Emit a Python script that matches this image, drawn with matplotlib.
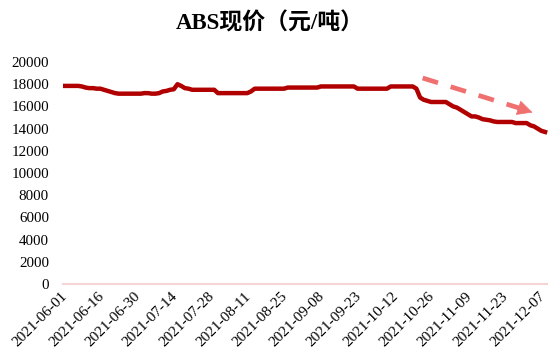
import matplotlib.pyplot as plt
import matplotlib.transforms as mtransforms
import numpy as np

# ABS spot price, one value per trading day from 2021-06-01
prices = [
    17850, 17850, 17850, 17850, 17850, 17800, 17700, 17650, 17650, 17600,
    17600, 17500, 17400, 17300, 17200, 17150, 17150, 17150, 17150, 17150,
    17150, 17150, 17200, 17200, 17150, 17150, 17200, 17350, 17400, 17500,
    17550, 18000, 17850, 17650, 17600, 17500, 17500, 17500, 17500, 17500,
    17500, 17500, 17200, 17200, 17200, 17200, 17200, 17200, 17200, 17200,
    17200, 17350, 17600, 17600, 17600, 17600, 17600, 17600, 17600, 17600,
    17600, 17700, 17700, 17700, 17700, 17700, 17700, 17700, 17700, 17700,
    17800, 17800, 17800, 17800, 17800, 17800, 17800, 17800, 17800, 17800,
    17600, 17600, 17600, 17600, 17600, 17600, 17600, 17600, 17600, 17800,
    17800, 17800, 17800, 17800, 17800, 17800, 17600, 16800, 16600, 16500,
    16400, 16400, 16400, 16400, 16400, 16200, 16000, 15900, 15700, 15500,
    15300, 15100, 15100, 15000, 14850, 14800, 14750, 14650, 14600, 14600,
    14600, 14600, 14600, 14500, 14500, 14500, 14500, 14300, 14200, 14000,
    13800, 13700,
]

# every 10th trading day gets a label
tick_labels = [
    "2021-06-01", "2021-06-16", "2021-06-30", "2021-07-14", "2021-07-28",
    "2021-08-11", "2021-08-25", "2021-09-08", "2021-09-23", "2021-10-12",
    "2021-10-26", "2021-11-09", "2021-11-23", "2021-12-07",
]
y_ticks = list(range(0, 20001, 2000))

serif = ["Liberation Serif", "DejaVu Serif"]

fig = plt.figure(figsize=(5.48, 3.58), dpi=100)
ax = fig.add_axes([0.1146, 0.2067, 0.8854, 0.620])

x = np.arange(len(prices))
ax.plot(x, prices, color="#b00000", lw=3.2, solid_joinstyle="round")

# trend arrow
ax.plot([97.7, 124.5], [18560, 15800], color="#f07070", lw=3.4,
        dashes=(3.4, 2.8))
ax.annotate("", xy=(128.3, 15380), xytext=(124.0, 15850),
            arrowprops=dict(arrowstyle="-|>,head_length=1.0,head_width=0.5",
                            color="#f07070", lw=0.5))

ax.set_xlim(-0.2, 131.8)
ax.set_ylim(0, 20000)
ax.set_yticks(y_ticks)
ax.set_yticklabels([str(v) for v in y_ticks], fontfamily=serif, fontsize=10.8)
ax.set_xticks(np.arange(0, 10 * len(tick_labels), 10))
ax.set_xticklabels(tick_labels, fontfamily=serif, fontsize=11, rotation=45,
                   ha="right", rotation_mode="anchor")
ax.tick_params(axis="y", length=0, pad=10)
ax.tick_params(axis="x", length=0, pad=4)

# nudge the date labels a little to the left
shift = mtransforms.ScaledTranslation(-3 / 100, 0, fig.dpi_scale_trans)
for lab in ax.get_xticklabels():
    lab.set_transform(lab.get_transform() + shift)

for s in ["top", "right", "left"]:
    ax.spines[s].set_visible(False)
ax.spines["bottom"].set_color("#f6d4d4")
ax.spines["bottom"].set_linewidth(1.5)

fig.text(0.493, 0.935, "ABS现价（元/吨）", ha="center", va="center",
         fontsize=16.5, fontweight="bold",
         family=["Liberation Serif", "Noto Sans CJK SC"])

fig.savefig("out.png", dpi=100)
